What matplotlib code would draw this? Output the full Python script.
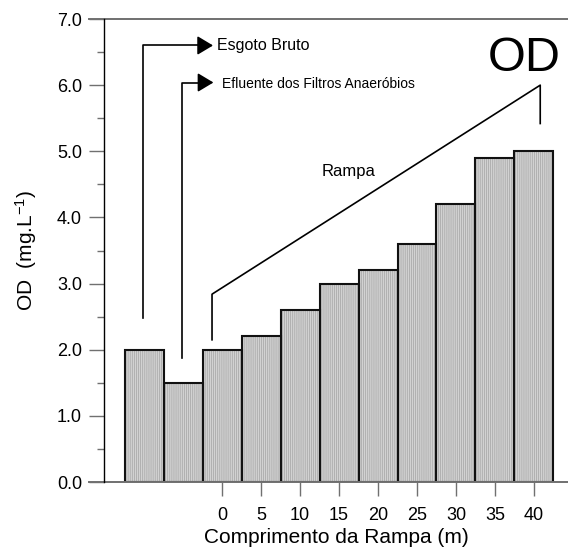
import matplotlib
matplotlib.use("Agg")
import matplotlib.pyplot as plt

plt.rcParams['font.family'] = ['Liberation Sans', 'DejaVu Sans']
plt.rcParams['mathtext.fontset'] = 'custom'
plt.rcParams['mathtext.rm'] = 'Liberation Sans'
plt.rcParams['mathtext.it'] = 'Liberation Sans:italic'
plt.rcParams['hatch.linewidth'] = 0.5

# data
positions = [-10, -5, 0, 5, 10, 15, 20, 25, 30, 35, 40]
od_values = [2.0, 1.5, 2.0, 2.2, 2.6, 3.0, 3.2, 3.6, 4.2, 4.9, 5.0]
tick_positions = [0, 5, 10, 15, 20, 25, 30, 35, 40]
tick_labels = ['0', '5', '10', '15', '20', '25', '30', '35', '40']
y_ticks = [0, 1, 2, 3, 4, 5, 6, 7]
y_labels = ['0.0', '1.0', '2.0', '3.0', '4.0', '5.0', '6.0', '7.0']

fig = plt.figure(figsize=(5.68, 5.51), dpi=100)
ax = fig.add_axes([0.1831, 0.1252, 0.8169, 0.8403])

# hatched fill, then black outline
ax.bar(positions, od_values, width=5, color='#d2d2d2', edgecolor='#a4a4a4',
       linewidth=0, hatch='||||||||')
ax.bar(positions, od_values, width=5, fill=False, edgecolor='#111111', linewidth=1.5)

ax.set_xlim(-15.13, 44.36)
ax.set_ylim(0, 7)

for s in ['top', 'right', 'bottom']:
    ax.spines[s].set_visible(False)
ax.spines['left'].set_linewidth(1.0)
ax.spines['left'].set_color('black')

# gray lines at 0 and 7 running to the right edge
trans = ax.get_yaxis_transform()
for yv in [0, 7]:
    ax.plot([-0.032, 1.0], [yv, yv], color='#707070', lw=1.4, transform=trans, clip_on=False)

ax.set_yticks(y_ticks)
ax.set_yticklabels(y_labels)
ax.set_yticks([0.5, 1.5, 2.5, 3.5, 4.5, 5.5, 6.5], minor=True)
ax.tick_params(axis='y', which='major', length=10.8, width=1.0, color='#707070',
               labelsize=13, pad=5)
ax.tick_params(axis='y', which='minor', length=5, width=1.0, color='#707070')

ax.set_xticks(tick_positions)
ax.set_xticklabels(tick_labels)
ax.tick_params(axis='x', length=10, width=1.0, color='#707070', labelsize=13, pad=8)

ax.set_xlabel('Comprimento da Rampa (m)', fontsize=15, labelpad=3)
ax.set_ylabel('OD  (mg.L$^{-1}$)', fontsize=15, labelpad=13)

# annotations
lw = 1.2
arrow = dict(arrowstyle='-|>,head_length=0.8,head_width=0.48', mutation_scale=12,
             color='black', lw=lw, shrinkA=0, shrinkB=0)

ax.plot([-10.1, -10.1, -2.8], [2.48, 6.6, 6.6], color='black', lw=lw, clip_on=False)
ax.annotate('', xy=(-1.15, 6.6), xytext=(-2.9, 6.6), arrowprops=arrow)
ax.text(-0.6, 6.6, 'Esgoto Bruto', fontsize=11.5, ha='left', va='center')

ax.plot([-5.13, -5.13, -2.8], [1.88, 6.04, 6.04], color='black', lw=lw)
ax.annotate('', xy=(-1.1, 6.04), xytext=(-2.9, 6.04), arrowprops=arrow)
ax.text(0.0, 6.02, 'Efluente dos Filtros Anaeróbios', fontsize=10, ha='left', va='center')

ax.plot([-1.28, -1.28, 40.8, 40.8], [2.15, 2.84, 6.0, 5.42], color='black', lw=lw)
ax.text(16.2, 4.69, 'Rampa', fontsize=12, ha='center', va='center')
ax.text(38.8, 6.41, 'OD', fontsize=35, ha='center', va='center')

fig.savefig('out.png', dpi=100)
